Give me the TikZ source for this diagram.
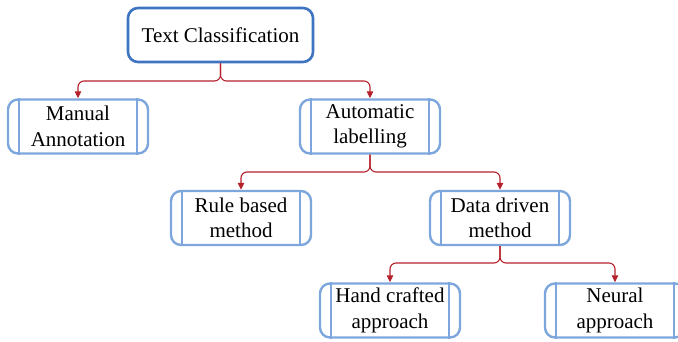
\documentclass[tikz,border=0pt]{standalone}
\usepackage{fontspec}
\setmainfont{Liberation Serif}
\usetikzlibrary{arrows.meta}
\definecolor{boxblue}{HTML}{7DA7DC}
\definecolor{rootblue}{HTML}{3F74C2}
\definecolor{linkred}{HTML}{B5202A}
\begin{document}
\begin{tikzpicture}[x=1pt,y=-1pt,
  every node/.style={font=\fontsize{21}{25.5}\selectfont, align=center, text=black},
  procbox/.style={draw=boxblue, line width=2.4pt, rounded corners=10pt,
    minimum width=140pt, minimum height=54pt, inner sep=0pt},
  rootbox/.style={draw=rootblue, line width=2.6pt, rounded corners=10pt,
    minimum width=185pt, minimum height=54pt, inner sep=0pt},
  sideline/.style={draw=boxblue, line width=2.4pt},
  link/.style={draw=linkred, line width=1.1pt, rounded corners=6pt,
    -{Triangle[length=7pt,width=6.5pt]}}
]
\useasboundingbox (0,0) rectangle (678,341);

% tree nodes
\node[rootbox] (root)   at (220.5,35)  {Text Classification};
\node[procbox] (manual) at (78,126.5)  {Manual\\Annotation};
\node[procbox] (auto)   at (370,126.5) {Automatic\\labelling};
\node[procbox] (rule)   at (241,218)   {Rule based\\method};
\node[procbox] (data)   at (500,218)   {Data driven\\method};
\node[procbox] (hand)   at (390,310.5) {Hand crafted\\approach};
\node[procbox] (neural) at (615,310.5) {Neural\\approach};

% inner vertical bars of the process boxes
\foreach \n in {manual,auto,rule,data,hand,neural}{
  \draw[sideline] ([xshift=12pt]\n.north west) -- ([xshift=12pt]\n.south west);
  \draw[sideline] ([xshift=-12pt]\n.north east) -- ([xshift=-12pt]\n.south east);
}

% horizontal levels of the branching lines
\coordinate (bar1) at (0,81);
\coordinate (bar2) at (0,172);
\coordinate (bar3) at (0,263);

% branches
\draw[link] (root.south) -- (root.south |- bar1) -- (manual.north |- bar1) -- (manual.north);
\draw[link] (root.south) -- (root.south |- bar1) -- (auto.north |- bar1) -- (auto.north);
\draw[link] (auto.south) -- (auto.south |- bar2) -- (rule.north |- bar2) -- (rule.north);
\draw[link] (auto.south) -- (auto.south |- bar2) -- (data.north |- bar2) -- (data.north);
\draw[link] (data.south) -- (data.south |- bar3) -- (hand.north |- bar3) -- (hand.north);
\draw[link] (data.south) -- (data.south |- bar3) -- (neural.north |- bar3) -- (neural.north);
\end{tikzpicture}
\end{document}
